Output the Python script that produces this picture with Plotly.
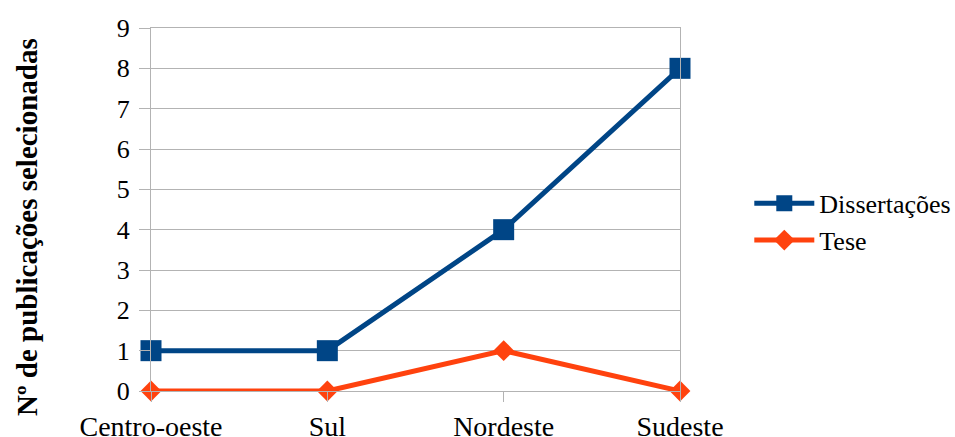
import plotly.graph_objects as go

# Regions and publication counts
regioes = ["Centro-oeste", "Sul", "Nordeste", "Sudeste"]
dissertacoes = [1, 1, 4, 8]
teses = [0, 0, 1, 0]
y_ticks = list(range(0, 10))

AZUL = "#004586"
LARANJA = "#ff420e"
CINZA = "#b3b3b3"
FONTE = "Liberation Serif, Times New Roman, Times, serif"

fig = go.Figure()

fig.add_trace(go.Scatter(
    x=regioes, y=dissertacoes, name="Dissertações",
    mode="lines+markers",
    line=dict(color=AZUL, width=5),
    marker=dict(symbol="square", size=21, color=AZUL),
    cliponaxis=False,
))
fig.add_trace(go.Scatter(
    x=regioes, y=teses, name="Tese",
    mode="lines+markers",
    line=dict(color=LARANJA, width=5),
    marker=dict(symbol="diamond", size=16, color=LARANJA),
    cliponaxis=False,
))

fig.update_layout(
    width=955, height=437,
    margin=dict(l=151, r=275, t=28, b=46, autoexpand=False),
    paper_bgcolor="white", plot_bgcolor="white",
    font=dict(family=FONTE, color="black"),
    showlegend=True,
    legend=dict(
        x=1.131, xanchor="left", y=0.466, yanchor="middle",
        font=dict(family=FONTE, size=26, color="black"),
        bgcolor="rgba(0,0,0,0)", itemwidth=60, tracegroupgap=0,
    ),
    xaxis=dict(
        type="category", range=[0, 3], automargin=False,
        showgrid=False, showline=True, mirror=True,
        linecolor=CINZA, linewidth=1,
        ticks="outside", ticklen=10, tickcolor=CINZA,
        tickfont=dict(family=FONTE, size=28, color="black"),
        zeroline=False,
    ),
    yaxis=dict(
        range=[0, 9], tickvals=y_ticks, automargin=False,
        showgrid=True, gridcolor=CINZA, gridwidth=1,
        showline=True, mirror=True, linecolor=CINZA, linewidth=1,
        ticks="outside", ticklen=11, tickcolor=CINZA,
        ticklabelstandoff=4,
        tickfont=dict(family=FONTE, size=26, color="black"),
        zeroline=False,
    ),
    annotations=[dict(
        text="<b>Nº de publicações selecionadas</b>",
        xref="paper", yref="paper",
        x=(27 - 151) / 529, y=(391 - 227) / 363,
        xanchor="center", yanchor="middle",
        textangle=-90, showarrow=False,
        font=dict(family=FONTE, size=29, color="black"),
    )],
)

fig.write_html("out.html")
